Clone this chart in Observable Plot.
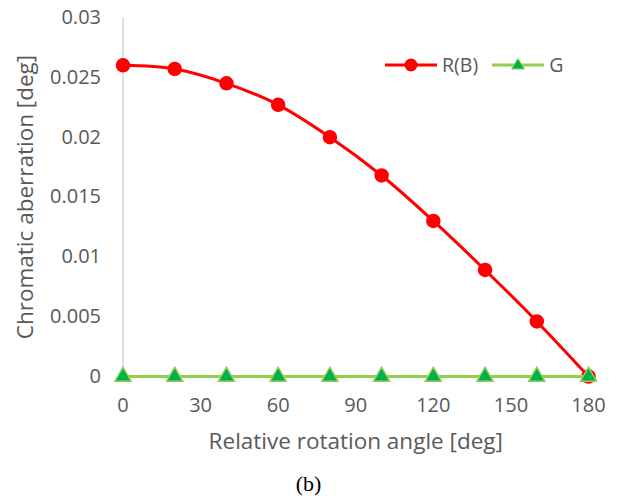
<!DOCTYPE html>
<html><head><meta charset="utf-8">
<script src="https://cdn.jsdelivr.net/npm/d3@7"></script>
<script src="https://cdn.jsdelivr.net/npm/@observablehq/plot@0.6"></script>
<style>
body{margin:0;background:#fff;}
#wrap{position:relative;width:617px;height:503px;font-family:"Open Sans",sans-serif;}
#wrap svg text{fill:#595959;}
g[aria-label="y-axis label"] text, g[aria-label="x-axis label"] text{font-size:22.5px;}
#legend{position:absolute;left:384px;top:55px;display:flex;align-items:center;font-size:19.5px;color:#595959;font-family:"Open Sans",sans-serif;line-height:20px;}
#caption{position:absolute;left:0;width:617px;top:471px;text-align:center;font-family:"Liberation Serif","DejaVu Serif",serif;font-size:22px;color:#000;}
</style>
</head><body><div id="wrap"></div>
<script>
const angles = [0, 20, 40, 60, 80, 100, 120, 140, 160, 180];
const rbValues = [0.0260, 0.0257, 0.0245, 0.0227, 0.0200, 0.0168, 0.0130, 0.0089, 0.0046, 0.0000];
const gValues = [0, 0, 0, 0, 0, 0, 0, 0, 0, 0];
const xTicks = [0, 30, 60, 90, 120, 150, 180];
const yTicks = [0, 0.005, 0.01, 0.015, 0.02, 0.025, 0.03];
const yTickLabels = ["0", "0.005", "0.01", "0.015", "0.02", "0.025", "0.03"];
const seriesNames = ["R(B)", "G"];

const rb = angles.map((a, i) => ({angle: a, value: rbValues[i]}));
const gr = angles.map((a, i) => ({angle: a, value: gValues[i]}));

const red = "#ff0000", lightGreen = "#92d050", darkGreen = "#00b050";

const chart = Plot.plot({
  width: 617,
  height: 460,
  marginLeft: 122.5,
  marginRight: 29,
  marginTop: 17,
  marginBottom: 84,
  style: {fontFamily: "'Open Sans', sans-serif", fontSize: "20px", color: "#595959", background: "white"},
  x: {domain: [0, 180]},
  y: {domain: [0, 0.03]},
  marks: [
    Plot.ruleX([0], {y1: 0, y2: 0.03, stroke: "#bfbfbf", strokeWidth: 1}),
    Plot.ruleY([0], {stroke: "#bfbfbf", strokeWidth: 1}),
    Plot.axisY(yTicks, {tickSize: 0, tickPadding: 22, tickFormat: (d, i) => yTickLabels[i],
      label: "Chromatic aberration [deg]", labelAnchor: "center", labelArrow: "none", labelOffset: 106}),
    Plot.axisX(xTicks, {tickSize: 0, tickPadding: 21,
      label: "Relative rotation angle [deg]", labelAnchor: "center", labelArrow: "none", labelOffset: 72}),
    Plot.line(rb, {x: "angle", y: "value", stroke: red, strokeWidth: 3, curve: "catmull-rom"}),
    Plot.dot(rb, {x: "angle", y: "value", r: 6.5, fill: red, stroke: red}),
    Plot.line(gr, {x: "angle", y: "value", stroke: lightGreen, strokeWidth: 3}),
    Plot.dot(gr, {x: "angle", y: "value", symbol: "triangle", r: 6, fill: darkGreen, stroke: lightGreen, strokeWidth: 1.5})
  ]
});
const wrap = document.getElementById("wrap");
wrap.appendChild(chart);

// legend overlay
const legend = document.createElement("div");
legend.id = "legend";
legend.innerHTML =
  `<svg width="54" height="20"><line x1="1" y1="10" x2="53" y2="10" stroke="${red}" stroke-width="3"/><circle cx="27" cy="10" r="6.5" fill="${red}"/></svg>` +
  `<span style="margin-left:4px;margin-right:13px">${seriesNames[0]}</span>` +
  `<svg width="54" height="20"><line x1="1" y1="10" x2="53" y2="10" stroke="${lightGreen}" stroke-width="3"/><path d="M27,3.5 L33.5,14 L20.5,14 Z" fill="${darkGreen}" stroke="${lightGreen}" stroke-width="1"/></svg>` +
  `<span style="margin-left:4px">${seriesNames[1]}</span>`;
wrap.appendChild(legend);

const cap = document.createElement("div");
cap.id = "caption";
cap.textContent = "(b)";
wrap.appendChild(cap);
</script>
</body></html>
